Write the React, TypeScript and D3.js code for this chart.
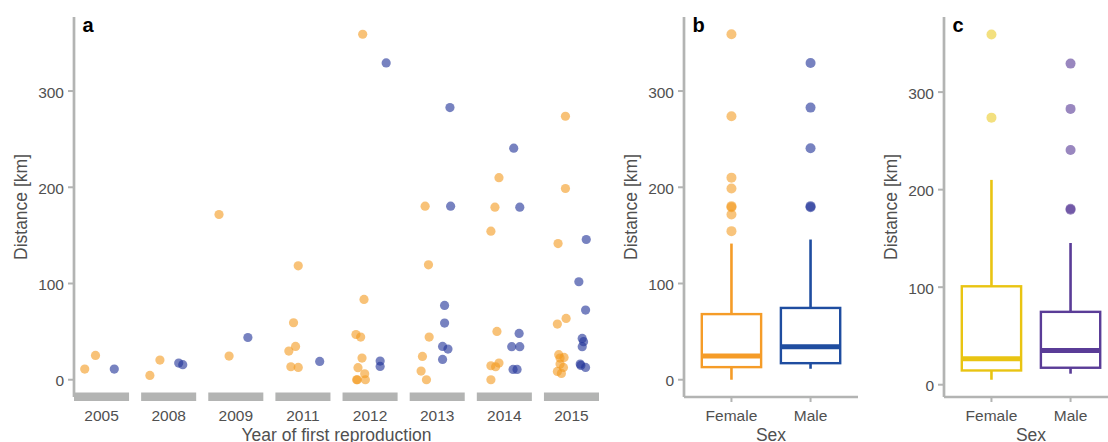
import React from "react";
import * as d3 from "d3";

// ---------- data ----------
const years = ["2005", "2008", "2009", "2011", "2012", "2013", "2014", "2015"];
const sexes = ["Female", "Male"];

// [year, distance km, jitter offset in category units]
const femalePoints: [string, number, number][] = [
  ["2005", 11.1, -0.25], ["2005", 25.3, -0.09],
  ["2008", 4.5, -0.28], ["2008", 20.4, -0.13],
  ["2009", 171.7, -0.25], ["2009", 24.6, -0.1],
  ["2011", 118.4, -0.07], ["2011", 59.2, -0.14], ["2011", 29.8, -0.21], ["2011", 34.6, -0.11], ["2011", 13.5, -0.18], ["2011", 12.8, -0.07],
  ["2012", 359, -0.11], ["2012", 83.4, -0.09], ["2012", 47, -0.21], ["2012", 44.3, -0.14], ["2012", 22.5, -0.12], ["2012", 12.5, -0.18], ["2012", 6.2, -0.08], ["2012", 0, -0.2], ["2012", 0, -0.19], ["2012", 0, -0.07],
  ["2013", 180.4, -0.18], ["2013", 119.4, -0.13], ["2013", 44.3, -0.12], ["2013", 24.2, -0.22], ["2013", 9, -0.24], ["2013", 0, -0.16],
  ["2014", 210, -0.08], ["2014", 179.3, -0.14], ["2014", 154.4, -0.2], ["2014", 50.2, -0.11], ["2014", 17.3, -0.08], ["2014", 13.5, -0.13], ["2014", 14.5, -0.2], ["2014", 0, -0.2],
  ["2015", 273.8, -0.09], ["2015", 198.7, -0.09], ["2015", 141.5, -0.2], ["2015", 63.7, -0.08], ["2015", 57.8, -0.21], ["2015", 26, -0.19], ["2015", 23.2, -0.11], ["2015", 22.5, -0.17], ["2015", 16.3, -0.17], ["2015", 12.8, -0.12], ["2015", 8.6, -0.21], ["2015", 6.5, -0.15],
];

const malePoints: [string, number, number][] = [
  ["2005", 11.1, 0.19],
  ["2008", 17.3, 0.15], ["2008", 15.6, 0.21],
  ["2009", 43.9, 0.18],
  ["2011", 19, 0.25],
  ["2012", 329.2, 0.24], ["2012", 19.4, 0.15], ["2012", 13.8, 0.15],
  ["2013", 282.8, 0.19], ["2013", 180.4, 0.2], ["2013", 77.2, 0.11], ["2013", 58.9, 0.11], ["2013", 34.6, 0.08], ["2013", 31.9, 0.16], ["2013", 21.1, 0.08],
  ["2014", 240.6, 0.14], ["2014", 179.3, 0.23], ["2014", 48.1, 0.22], ["2014", 34.3, 0.11], ["2014", 34.3, 0.23], ["2014", 10.7, 0.13], ["2014", 10.7, 0.19],
  ["2015", 145.7, 0.22], ["2015", 101.8, 0.11], ["2015", 72.4, 0.21], ["2015", 42.9, 0.16], ["2015", 39.5, 0.18], ["2015", 34.3, 0.16], ["2015", 16.3, 0.13], ["2015", 14.9, 0.14], ["2015", 12.8, 0.21],
];

// box stats [lowWhisker, q1, median, q3, highWhisker]
const boxB_Female = [0, 13.1, 24.6, 68.2, 141.5];
const boxB_Male = [11.4, 17.2, 34.2, 74.6, 145.7];
const boxC_Female = [5.1, 14.6, 26.6, 100.9, 210];
const boxC_Male = [11.3, 17.4, 35.1, 74.7, 145.3];

const yTicks = [0, 100, 200, 300];

// ---------- style ----------
const FONT = "'Liberation Sans', Arial, Helvetica, sans-serif";
const AXIS = "#b3b4b3";
const TXT = "#505050";
const ptF = "#F39A1E";
const ptM = "#23359A";
const boxColB = ["#F59C28", "#1F4DA0"];
const boxColC = ["#E9C412", "#5A3C97"];
const outColB = ["#F39A1E", "#23359A"];
const outColC = ["#E8C100", "#5A3D98"];

const TOP = 17;
const BOT = 397;

function YAxis({ x, y, label, letter }: { x: number; y: d3.ScaleLinear<number, number>; label: string; letter: string }) {
  return (
    <g>
      <line x1={x} x2={x} y1={TOP} y2={BOT} stroke={AXIS} strokeWidth={2.7} />
      {yTicks.map((t) => (
        <g key={t}>
          <line x1={x - 6} x2={x} y1={y(t)} y2={y(t)} stroke={AXIS} strokeWidth={2} />
          <text x={x - 10} y={y(t)} dy="0.42em" textAnchor="end" fontSize={15.5} fill={TXT} fontFamily={FONT}>
            {t}
          </text>
        </g>
      ))}
      <text
        transform={`translate(${x - 53},${(TOP + BOT) / 2}) rotate(-90)`}
        textAnchor="middle"
        dy="0.35em"
        fontSize={17.5}
        fill={TXT}
        fontFamily={FONT}
      >
        {label}
      </text>
      <text x={x + 8.5} y={31.5} fontSize={20} fontWeight="bold" fill="#000" fontFamily={FONT}>
        {letter}
      </text>
    </g>
  );
}

function BoxPanel({
  x0, y, boxes, boxCols, outCols, outOpacity, letter,
}: {
  x0: number; y: d3.ScaleLinear<number, number>; boxes: number[][]; boxCols: string[]; outCols: string[]; outOpacity: number[]; letter: string;
}) {
  const xs = d3.scalePoint<string>().domain(sexes).range([x0, x0 + 174]).padding(0.6);
  const bw = xs.step() * 0.75;
  const pointsBySex = [femalePoints, malePoints];
  return (
    <g>
      <line x1={x0} x2={x0 + 174} y1={BOT} y2={BOT} stroke={AXIS} strokeWidth={2.7} />
      {sexes.map((s) => (
        <g key={s}>
          <line x1={xs(s)} x2={xs(s)} y1={BOT} y2={BOT + 5} stroke={AXIS} strokeWidth={2} />
          <text x={xs(s)} y={421} textAnchor="middle" fontSize={15.5} fill={TXT} fontFamily={FONT}>
            {s}
          </text>
        </g>
      ))}
      <text x={x0 + 87} y={441} textAnchor="middle" fontSize={17.5} fill={TXT} fontFamily={FONT}>
        Sex
      </text>
      {sexes.map((s, i) => {
        const [lo, q1, med, q3, hi] = boxes[i];
        const cx = xs(s)!;
        const col = boxCols[i];
        const outs = pointsBySex[i].filter((p) => p[1] > hi + 0.5);
        return (
          <g key={s}>
            <line x1={cx} x2={cx} y1={y(q3)} y2={y(hi)} stroke={col} strokeWidth={2.6} />
            <line x1={cx} x2={cx} y1={y(q1)} y2={y(lo)} stroke={col} strokeWidth={2.6} />
            <rect x={cx - bw / 2} y={y(q3)} width={bw} height={y(q1) - y(q3)} fill="white" stroke={col} strokeWidth={2.4} />
            <line x1={cx - bw / 2} x2={cx + bw / 2} y1={y(med)} y2={y(med)} stroke={col} strokeWidth={5} />
            {outs.map((p, j) => (
              <circle key={j} cx={cx} cy={y(p[1])} r={5} fill={outCols[i]} fillOpacity={outOpacity[i]} />
            ))}
          </g>
        );
      })}
      <YAxis x={x0} y={y} label="Distance [km]" letter={letter} />
    </g>
  );
}

export default function App() {
  const yA = d3.scaleLinear().domain([-17.95, 376.95]).range([BOT, TOP]);
  const yC = d3.scaleLinear().domain([-12.6, 377]).range([BOT, TOP]);
  const xA = d3.scaleBand<string>().domain(years).range([74, 599]).paddingInner(0.18).paddingOuter(0);
  const step = xA.step();
  const center = (yr: string) => xA(yr)! + xA.bandwidth() / 2;

  return (
    <svg width={1108} height={442} style={{ position: "absolute", left: 0, top: 0, background: "white" }}>
      {/* Panel a */}
      <g>
        {years.map((yr) => (
          <g key={yr}>
            <rect x={xA(yr)} y={392.5} width={xA.bandwidth()} height={8.5} fill={AXIS} />
            <text x={center(yr)} y={421} textAnchor="middle" fontSize={15.5} fill={TXT} fontFamily={FONT}>
              {yr}
            </text>
          </g>
        ))}
        <text x={336.5} y={441} textAnchor="middle" fontSize={17.5} fill={TXT} fontFamily={FONT}>
          Year of first reproduction
        </text>
        {femalePoints.map((p, i) => (
          <circle key={"f" + i} cx={center(p[0]) + p[2] * step} cy={yA(p[1])} r={4.6} fill={ptF} fillOpacity={0.6} />
        ))}
        {malePoints.map((p, i) => (
          <circle key={"m" + i} cx={center(p[0]) + p[2] * step} cy={yA(p[1])} r={4.6} fill={ptM} fillOpacity={0.62} />
        ))}
        <YAxis x={74} y={yA} label="Distance [km]" letter="a" />
      </g>
      {/* Panel b */}
      <BoxPanel x0={684} y={yA} boxes={[boxB_Female, boxB_Male]} boxCols={boxColB} outCols={outColB} outOpacity={[0.58, 0.62]} letter="b" />
      {/* Panel c */}
      <BoxPanel x0={944} y={yC} boxes={[boxC_Female, boxC_Male]} boxCols={boxColC} outCols={outColC} outOpacity={[0.5, 0.62]} letter="c" />
    </svg>
  );
}
